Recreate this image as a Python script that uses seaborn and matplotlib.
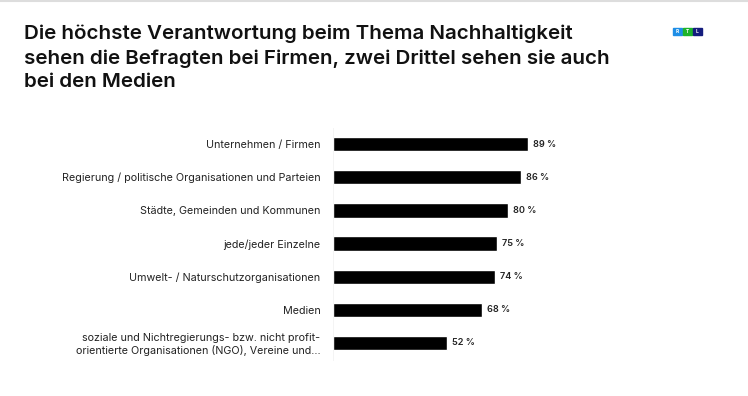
import matplotlib
matplotlib.use('Agg')
import matplotlib.pyplot as plt
import seaborn as sns
import pandas as pd
from matplotlib.patches import Rectangle

# ── Data ─────────────────────────────────────────────────────────────────────
categories = [
    'Unternehmen / Firmen',
    'Regierung / politische Organisationen und Parteien',
    'Städte, Gemeinden und Kommunen',
    'jede/jeder Einzelne',
    'Umwelt- / Naturschutzorganisationen',
    'Medien',
    'soziale und Nichtregierungs- bzw. nicht profit-\norientierte Organisationen (NGO), Vereine und...',
]
values = [89, 86, 80, 75, 74, 68, 52]

title = ('Die höchste Verantwortung beim Thema Nachhaltigkeit\n'
         'sehen die Befragten bei Firmen, zwei Drittel sehen sie auch\n'
         'bei den Medien')

df = pd.DataFrame({'category': categories, 'value': values})

# ── Style ────────────────────────────────────────────────────────────────────
sns.set_style('white')
plt.rcParams['font.family'] = ['Inter', 'DejaVu Sans']

fig = plt.figure(figsize=(7.48, 3.96), dpi=100)
ax = fig.add_axes([0.445, 0.092, 0.293, 0.586])

sns.barplot(data=df, x='value', y='category', color='black',
            width=0.43, saturation=1, ax=ax)

ax.set_xlim(0, 100)
ax.set_ylim(len(categories) - 0.5, -0.5)
ax.set_xlabel('')
ax.set_ylabel('')
ax.set_xticks([])
ax.tick_params(axis='y', length=0, pad=9, labelsize=7.75, labelcolor='#222222')
ax.set_yticks(range(len(categories)), categories)
ax.set_yticks([i + 0.5 for i in range(-1, len(categories))], minor=True)
ax.tick_params(axis='y', which='minor', length=3, color='#dddddd', width=0.8)
for s in ['top', 'right', 'bottom']:
    ax.spines[s].set_visible(False)
ax.spines['left'].set_color('#f2f2f2')
ax.spines['left'].set_linewidth(0.6)

for p, v in zip(ax.patches, values):
    ax.text(p.get_width() + 2.2, p.get_y() + p.get_height() / 2, f'{v} %',
            va='center', ha='left', fontsize=6.6, fontweight='semibold',
            color='#222222')

# ── Title ────────────────────────────────────────────────────────────────────
fig.text(0.032, 0.937, title, ha='left', va='top', fontsize=14.8,
         fontweight='semibold', color='#111111', linespacing=1.4)

# top border line
fig.add_artist(plt.Line2D([0, 1], [0.997, 0.997], color='#dddddd', lw=1.5))

# ── RTL logo ─────────────────────────────────────────────────────────────────
logo_cols = ['#1e8ee6', '#1db32b', '#141c7e']
for i, (c, letter) in enumerate(zip(logo_cols, 'RTL')):
    x0 = (673 + i * 10) / 748
    fig.add_artist(Rectangle((x0, 1 - 35 / 396), 8.5 / 748, 7.5 / 396,
                             transform=fig.transFigure, color=c))
    fig.text(x0 + 4.25 / 748, 1 - 31.2 / 396, letter, color='white',
             fontsize=3.5, fontweight='bold', ha='center', va='center')

fig.savefig('out.png', dpi=100, facecolor='white')
